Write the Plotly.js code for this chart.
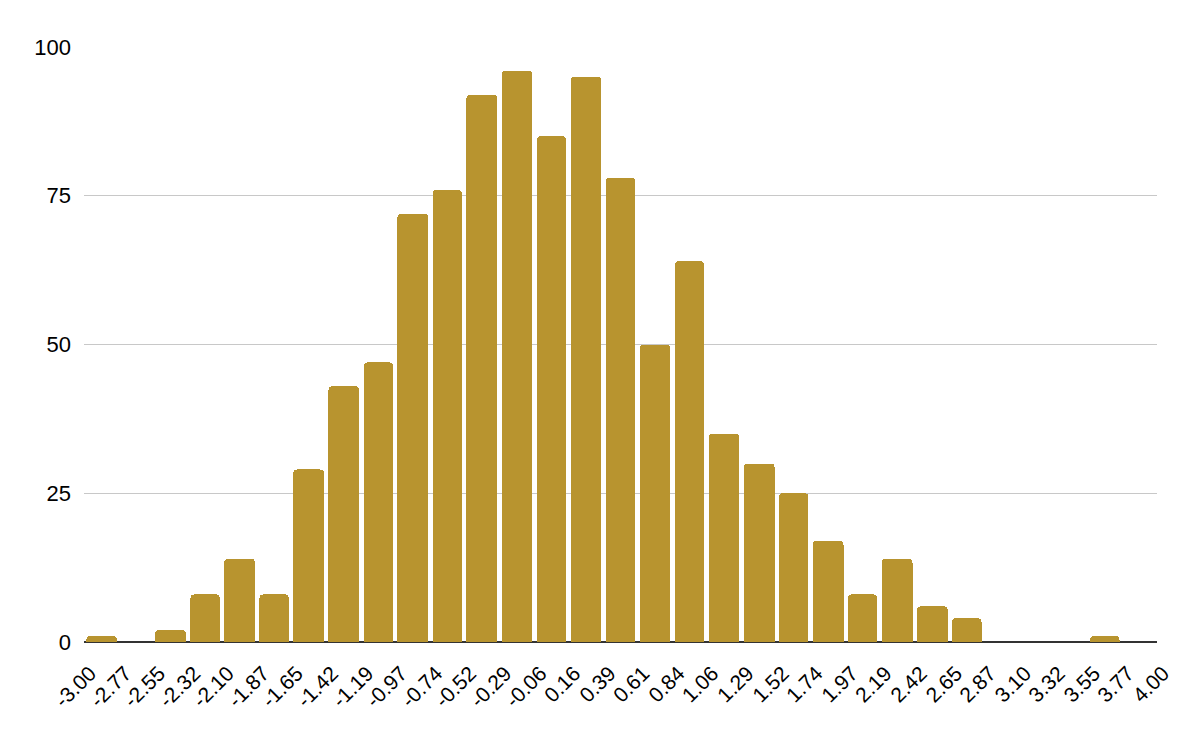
<!DOCTYPE html>
<html>
<head>
<meta charset="utf-8">
<script src="https://cdn.plot.ly/plotly-3.0.1.min.js"></script>
<style>
  html, body { margin: 0; padding: 0; background: #fff; }
  #chart { width: 1190px; height: 740px; }
</style>
</head>
<body>
<div id="chart"></div>
<script>
// Bin edge labels (x axis tick labels)
const binEdgeLabels = ["-3.00","-2.77","-2.55","-2.32","-2.10","-1.87","-1.65","-1.42","-1.19","-0.97",
  "-0.74","-0.52","-0.29","-0.06","0.16","0.39","0.61","0.84","1.06","1.29","1.52","1.74","1.97",
  "2.19","2.42","2.65","2.87","3.10","3.32","3.55","3.77","4.00"];
// Count per bin
const binCounts = [1, 0, 2, 8, 14, 8, 29, 43, 47, 72, 76, 92, 96, 85, 95, 78, 50, 64, 35, 30, 25, 17, 8, 14, 6, 4, 0, 0, 0, 1, 0];
const yTickVals = [0, 25, 50, 75, 100];

const edges = binEdgeLabels.map(Number);
const centers = binCounts.map((_, i) => (edges[i] + edges[i + 1]) / 2);
const widths = binCounts.map((_, i) => (edges[i + 1] - edges[i]) * 0.87);

const trace = {
  type: 'bar',
  x: centers,
  y: binCounts,
  width: widths,
  marker: { color: '#b8942f', cornerradius: 4, line: { width: 0 } },
  hoverinfo: 'x+y'
};

const layout = {
  width: 1190,
  height: 740,
  margin: { l: 84, r: 33, t: 47, b: 98 },
  paper_bgcolor: '#ffffff',
  plot_bgcolor: '#ffffff',
  showlegend: false,
  font: { family: 'Liberation Sans, Arial, sans-serif', color: '#000000', size: 20 },
  xaxis: {
    range: [edges[0], edges[edges.length - 1]],
    tickvals: edges,
    ticktext: binEdgeLabels,
    tickangle: -45,
    tickfont: { size: 21, color: '#000' },
    ticklabelstandoff: 14,
    ticklabelshift: 6,
    showgrid: false,
    zeroline: false,
    showline: false,
    ticks: '',
    fixedrange: true
  },
  yaxis: {
    range: [0, 100],
    tickvals: yTickVals,
    ticktext: yTickVals.map(String),
    tickfont: { size: 22, color: '#000' },
    ticklabelstandoff: 12,
    showgrid: true,
    gridcolor: '#c8c8c8',
    gridwidth: 1,
    zeroline: true,
    zerolinecolor: '#333333',
    zerolinewidth: 2,
    showline: false,
    ticks: '',
    ticklen: 0,
    fixedrange: true
  },
  bargap: 0
};

Plotly.newPlot('chart', [trace], layout, { displayModeBar: false, staticPlot: true });
</script>
</body>
</html>
